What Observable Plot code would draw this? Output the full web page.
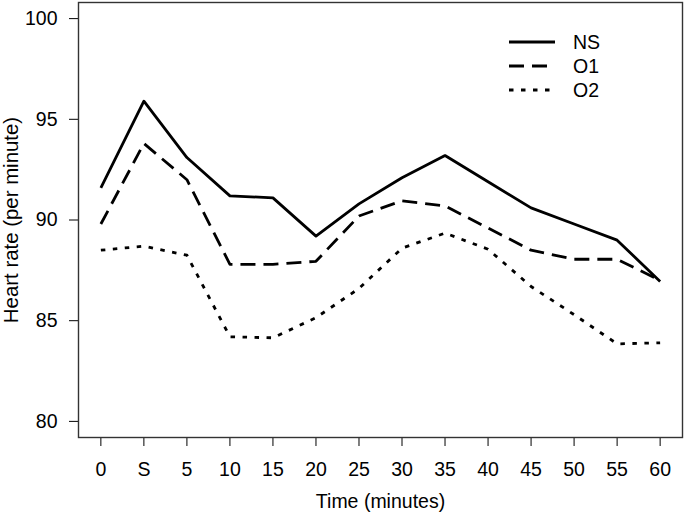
<!DOCTYPE html>
<html><head><meta charset="utf-8">
<script src="https://cdn.jsdelivr.net/npm/d3@7"></script>
<script src="https://cdn.jsdelivr.net/npm/@observablehq/plot@0.6"></script>
<style>
body{margin:0;background:#fff;}
#chart{position:relative;width:685px;height:516px;}
</style>
</head><body><div id="chart"></div>
<script>
// Tick labels (categories along time axis)
const timeLabels = ["0","S","5","10","15","20","25","30","35","40","45","50","55","60"];
// Series values (heart rate, per minute)
const nsValues = [91.6, 95.9, 93.1, 91.2, 91.1, 89.2, 90.8, 92.1, 93.2, 91.9, 90.6, 89.8, 89.0, 86.95];
const o1Values = [89.8, 93.8, 92.0, 87.8, 87.8, 87.95, 90.2, 90.95, 90.7, 89.6, 88.5, 88.05, 88.05, 87.0];
const o2Values = [88.5, 88.7, 88.25, 84.2, 84.15, 85.15, 86.6, 88.6, 89.35, 88.55, 86.7, 85.3, 83.85, 83.9];
const seriesNames = ["NS", "O1", "O2"];
const yTicks = [80, 85, 90, 95, 100];

const seriesValues = {NS: nsValues, O1: o1Values, O2: o2Values};
const dashStyles = {NS: null, O1: "15,8", O2: "4.5,7.5"};

const rows = [];
for (const s of seriesNames) {
  seriesValues[s].forEach((v, i) => rows.push({series: s, idx: i, time: timeLabels[i], hr: v}));
}

const font = "'Liberation Sans', Arial, sans-serif";

const plot = Plot.plot({
  width: 685,
  height: 516,
  marginLeft: 78,
  marginRight: 3,
  marginTop: 2,
  marginBottom: 79,
  style: {fontFamily: font, fontSize: "19.5px", color: "#000", background: "#fff"},
  x: {type: "linear", domain: [-0.52, timeLabels.length - 1 + 0.52]},
  y: {domain: [79.2, 100.8]},
  marks: [
    Plot.axisX({
      ticks: d3.range(timeLabels.length),
      tickFormat: i => timeLabels[i],
      tickSize: 9, tickPadding: 16,
      label: "Time (minutes)", labelAnchor: "center", labelArrow: "none", labelOffset: 70
    }),
    Plot.axisY({
      ticks: yTicks,
      tickSize: 9, tickPadding: 12,
      label: null
    }),
    Plot.axisY({
      ticks: [],
      label: "Heart rate (per minute)", labelAnchor: "center", labelArrow: "none", labelOffset: 75,
      fontSize: 20.4
    }),
    ...seriesNames.map(s => Plot.line(rows.filter(d => d.series === s), {
      x: "idx", y: "hr", stroke: "#000", strokeWidth: 2.8,
      strokeDasharray: dashStyles[s] || undefined, strokeLinecap: "butt", strokeLinejoin: "round"
    })),
    Plot.frame({stroke: "#333", strokeWidth: 1.4})
  ]
});
document.getElementById("chart").appendChild(plot);

// Legend (top-right, inside the plotting box)
const svg = d3.select(plot);
const lg = svg.append("g").attr("font-family", font).attr("font-size", "19.5px").attr("text-anchor", "start");
seriesNames.forEach((s, k) => {
  const yy = 42 + k * 24;
  lg.append("line").attr("x1", 509).attr("x2", 555).attr("y1", yy).attr("y2", yy)
    .attr("stroke", "#000").attr("stroke-width", 2.8)
    .attr("stroke-dasharray", dashStyles[s] || null);
  lg.append("text").attr("x", 573).attr("y", yy).attr("dy", "0.36em").attr("fill", "#000").text(s);
});
</script>
</body></html>
